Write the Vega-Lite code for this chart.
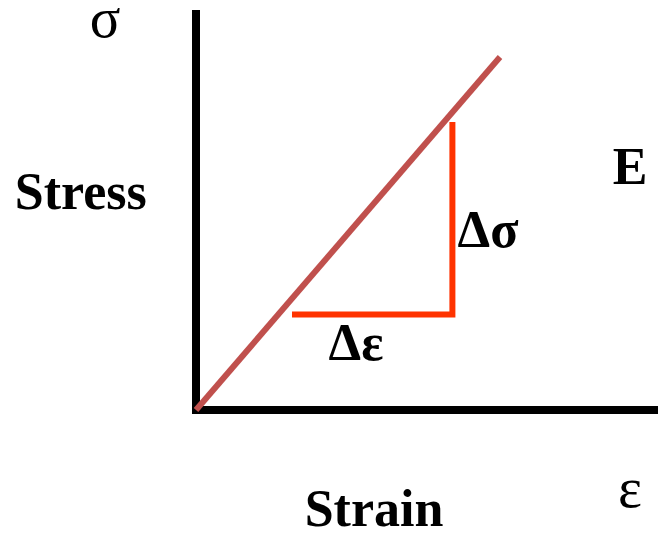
{
  "$schema": "https://vega.github.io/schema/vega-lite/v6.json",
  "width": 658,
  "height": 535,
  "padding": 0,
  "autosize": {"type": "none"},
  "background": "white",
  "config": {"view": {"stroke": null}},
  "datasets": {
    "axes": [
      {"name": "stress axis", "x": 0, "x2": 0, "y": -0.1, "y2": 10},
      {"name": "strain axis", "x": -0.1, "x2": 11.55, "y": 0, "y2": 0}
    ],
    "elastic": [
      {"strain": 0, "stress": 0, "strain2": 7.6, "stress2": 8.825}
    ],
    "triangle": [
      {"seq": 1, "strain": 2.4, "stress": 2.39},
      {"seq": 2, "strain": 6.41, "stress": 2.39},
      {"seq": 3, "strain": 6.41, "stress": 7.2}
    ],
    "boldLabels": [
      {"label": "Stress", "x": -2.88, "y": 5.03},
      {"label": "Strain", "x": 4.45, "y": -2.9},
      {"label": "E", "x": 10.85, "y": 5.65},
      {"label": "Δσ", "x": 7.3, "y": 4.08},
      {"label": "Δε", "x": 4.0, "y": 1.25}
    ],
    "symbols": [
      {"label": "σ", "x": -2.275, "y": 9.325},
      {"label": "ε", "x": 10.85, "y": -2.425}
    ]
  },
  "layer": [
    {
      "data": {"name": "axes"},
      "mark": {"type": "rule", "color": "black", "strokeWidth": 8, "strokeCap": "butt"},
      "encoding": {
        "x": {"field": "x", "type": "quantitative", "scale": {"domain": [-4.9, 11.55], "nice": false, "zero": false}, "axis": null},
        "x2": {"field": "x2"},
        "y": {"field": "y", "type": "quantitative", "scale": {"domain": [-3.125, 10.25], "nice": false, "zero": false}, "axis": null},
        "y2": {"field": "y2"}
      }
    },
    {
      "data": {"name": "elastic"},
      "mark": {"type": "rule", "color": "#c0504d", "strokeWidth": 6, "strokeCap": "butt"},
      "encoding": {
        "x": {"field": "strain", "type": "quantitative"},
        "x2": {"field": "strain2"},
        "y": {"field": "stress", "type": "quantitative"},
        "y2": {"field": "stress2"}
      }
    },
    {
      "data": {"name": "triangle"},
      "mark": {"type": "line", "color": "#ff3300", "strokeWidth": 6, "strokeJoin": "miter", "strokeCap": "butt"},
      "encoding": {
        "x": {"field": "strain", "type": "quantitative"},
        "y": {"field": "stress", "type": "quantitative"},
        "order": {"field": "seq"}
      }
    },
    {
      "data": {"name": "boldLabels"},
      "mark": {"type": "text", "font": "'Liberation Serif', 'Times New Roman', serif", "fontSize": 52, "fontWeight": "bold", "color": "black", "align": "center", "baseline": "alphabetic"},
      "encoding": {
        "x": {"field": "x", "type": "quantitative"},
        "y": {"field": "y", "type": "quantitative"},
        "text": {"field": "label"}
      }
    },
    {
      "data": {"name": "symbols"},
      "mark": {"type": "text", "font": "'Liberation Serif', 'Times New Roman', serif", "fontSize": 57, "color": "black", "align": "center", "baseline": "alphabetic"},
      "encoding": {
        "x": {"field": "x", "type": "quantitative"},
        "y": {"field": "y", "type": "quantitative"},
        "text": {"field": "label"}
      }
    }
  ]
}
